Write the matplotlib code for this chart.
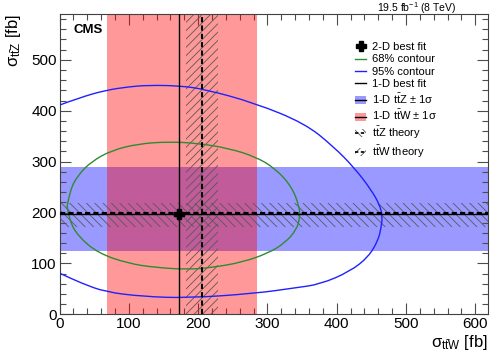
import matplotlib
matplotlib.use("Agg")
import matplotlib.pyplot as plt
from matplotlib.lines import Line2D
from matplotlib.patches import Patch, PathPatch
from matplotlib.path import Path
from matplotlib.ticker import MultipleLocator

plt.rcParams["font.family"] = ["Liberation Sans", "DejaVu Sans"]
plt.rcParams["mathtext.fontset"] = "custom"
plt.rcParams["mathtext.rm"] = "Liberation Sans"
plt.rcParams["mathtext.it"] = "Liberation Sans:italic"
plt.rcParams["mathtext.bf"] = "Liberation Sans:bold"
plt.rcParams["hatch.linewidth"] = 0.6

# cross sections in fb
best_fit_2d = (173, 197)
best_fit_ttw = 173
best_fit_ttz = 198
ttw_1sigma = (68, 285)
ttz_1sigma = (124, 290)
theory_ttw = 206
theory_ttw_band = (182, 228)
theory_ttz = 199
theory_ttz_band = (171, 218)

contour68_x = [11, 15, 27, 46, 75, 114, 157, 200, 244, 282, 311, 335, 346, 347,
               342, 325, 301, 263, 220, 186, 138, 99, 56, 27, 14, 11]
contour68_y = [212, 244, 274, 300, 322, 335, 339, 336, 326, 310, 287, 251, 212, 191,
               166, 140, 120, 102, 92, 88, 92, 100, 120, 153, 185, 212]

contour95_x = [0, 30, 66, 100, 128, 173, 210, 282, 354, 395, 426, 450, 462, 466,
               464, 460, 446, 419, 376, 340, 282, 186, 120, 66, 32, 3, 0]
contour95_y = [411, 426, 440, 447, 450, 449, 442, 415, 375, 330, 287, 244, 215, 192,
               170, 146, 113, 84, 59, 52, 41, 32, 35, 44, 61, 79, 81]

red = (1.0, 0.0, 0.0, 0.4)
blue = (0.0, 0.0, 1.0, 0.4)
green = "#2e8b2e"
line_blue = "#2020ff"
hatch_col = "0.35"


def smooth_path(xs, ys):
    # quadratic bezier through the midpoints, keeps the end points
    pts = list(zip(xs, ys))
    verts = [pts[0]]
    codes = [Path.MOVETO]
    for i in range(1, len(pts) - 1):
        mid = ((pts[i][0] + pts[i + 1][0]) / 2, (pts[i][1] + pts[i + 1][1]) / 2)
        if i == len(pts) - 2:
            mid = pts[-1]
        verts += [pts[i], mid]
        codes += [Path.CURVE3, Path.CURVE3]
    return Path(verts, codes)


fig = plt.figure(figsize=(4.98, 3.58), dpi=100)
ax = fig.add_axes([0.1195, 0.122, 0.86, 0.839])

ax.axhspan(*ttz_1sigma, color=blue, lw=0, zorder=1)
ax.axvspan(*ttw_1sigma, color=red, lw=0, zorder=2)
ax.axvspan(*theory_ttw_band, facecolor="none", edgecolor=hatch_col, hatch="////", lw=0, zorder=3)
ax.axhspan(*theory_ttz_band, facecolor="none", edgecolor=hatch_col, hatch="\\\\\\\\", lw=0, zorder=3)

ax.add_patch(PathPatch(smooth_path(contour68_x, contour68_y), fill=False,
                       edgecolor=green, lw=1, zorder=4))
ax.add_patch(PathPatch(smooth_path(contour95_x, contour95_y), fill=False,
                       edgecolor=line_blue, lw=1, zorder=4))

ax.axvline(best_fit_ttw, color="black", lw=1, zorder=5)
ax.axhline(best_fit_ttz, color="black", lw=1, zorder=5)
ax.axvline(theory_ttw, color="black", lw=1.5, ls=(0, (2.5, 1.5)), zorder=5)
ax.axhline(theory_ttz, color="black", lw=1.5, ls=(0, (2.5, 1.5)), zorder=5)
ax.plot(*best_fit_2d, marker="P", color="black", ms=7, zorder=6)

ax.set_xlim(0, 618)
ax.set_ylim(0, 590)
ax.xaxis.set_major_locator(MultipleLocator(100))
ax.xaxis.set_minor_locator(MultipleLocator(20))
ax.yaxis.set_major_locator(MultipleLocator(100))
ax.yaxis.set_minor_locator(MultipleLocator(20))
ax.tick_params(which="both", direction="in", top=True, right=True, color="0.3",
               width=0.8, labelsize=11, pad=2)
ax.tick_params(which="major", length=8)
ax.tick_params(which="minor", length=4)
for sp in ax.spines.values():
    sp.set_color("0.25")

ax.set_xlabel(r"σ$_{\mathrm{t\bar{t}W}}$ [fb]", fontsize=12, ha="right", va="center")
ax.xaxis.set_label_coords(1.0, -0.093)
ax.set_ylabel(r"σ$_{\mathrm{t\bar{t}Z}}$ [fb]", fontsize=12, ha="right", va="center")
ax.yaxis.set_label_coords(-0.107, 1.0)

ax.text(0.033, 0.965, "CMS", transform=ax.transAxes, fontsize=9.5, fontweight="bold",
        ha="left", va="top")
fig.text(0.917, 0.978, r"19.5 fb$^{-1}$ (8 TeV)", fontsize=7.5, ha="right", va="center")

handles = [
    Line2D([], [], marker="P", color="black", ms=7, ls="none"),
    Line2D([], [], color=green, lw=1),
    Line2D([], [], color=line_blue, lw=1),
    Line2D([], [], color="black", lw=1),
    (Patch(facecolor=blue, lw=0), Line2D([], [], color="black", lw=1)),
    (Patch(facecolor=red, lw=0), Line2D([], [], color="black", lw=1)),
    (Patch(facecolor="white", edgecolor=hatch_col, hatch="\\\\\\\\", lw=0),
     Line2D([], [], color="black", lw=1.2, ls=(0, (2, 1.5)))),
    (Patch(facecolor="white", edgecolor=hatch_col, hatch="////", lw=0),
     Line2D([], [], color="black", lw=1.2, ls=(0, (2, 1.5)))),
]
labels = [
    "2-D best fit",
    "68% contour",
    "95% contour",
    "1-D best fit",
    r"1-D t$\bar{\mathrm{t}}$Z ± 1σ",
    r"1-D t$\bar{\mathrm{t}}$W ± 1σ",
    r"t$\bar{\mathrm{t}}$Z theory",
    r"t$\bar{\mathrm{t}}$W theory",
]
ax.legend(handles, labels, loc="upper left", bbox_to_anchor=(355 / 498, 1 - 42 / 358),
          bbox_transform=fig.transFigure, frameon=False, fontsize=8, handlelength=1.0,
          handleheight=0.7, handletextpad=0.5, labelspacing=0.22, borderpad=0,
          borderaxespad=0)

fig.savefig("out.png", dpi=100)
